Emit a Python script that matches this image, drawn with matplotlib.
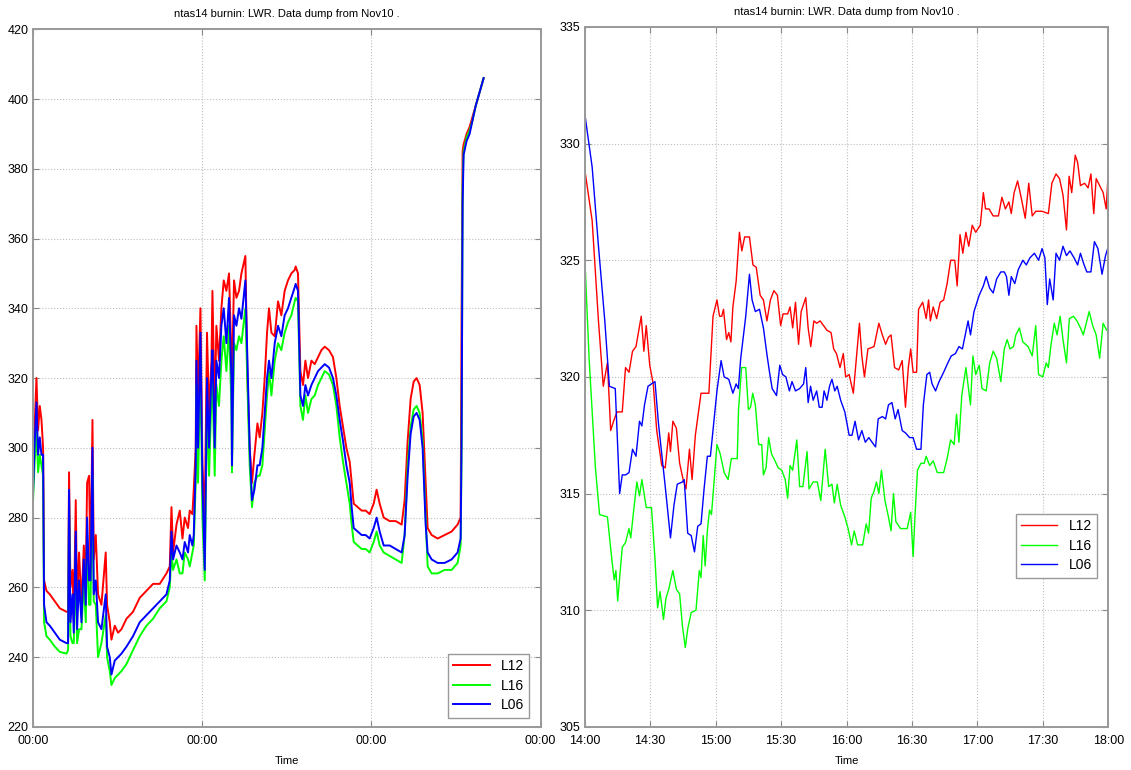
import numpy as np
import matplotlib
matplotlib.use('Agg')
import matplotlib.pyplot as plt
import matplotlib.dates as mdates
from datetime import datetime, timedelta

plt.rcParams['font.family'] = ['Liberation Sans', 'DejaVu Sans']

title = 'ntas14 burnin: LWR. Data dump from Nov10 .'
labels = ['L12', 'L16', 'L06']
colors = ['#ff0000', '#00ff00', '#0000ff']

# ---- left panel: ~2.7 days of data, hours from start
left_hours = [0.0, 0.24, 0.52, 0.75, 0.99, 1.23, 1.46, 1.60, 1.94, 2.41, 3.12, 3.83, 4.78, 5.00,
              5.14, 5.34, 5.63, 5.81, 6.09, 6.28, 6.56, 6.90, 7.23, 7.51, 7.70, 7.98, 8.18, 8.46,
              8.64, 8.93, 9.25, 9.73, 10.34, 10.53, 10.91, 11.15, 11.62, 12.09, 12.57, 13.28, 14.21,
              15.16, 16.11, 17.05, 18.0, 18.95, 19.42, 19.66, 19.89, 20.37, 20.84, 21.22, 21.54,
              22.01, 22.25, 22.63, 22.82, 23.10, 23.20, 23.43, 23.77, 24.05, 24.38, 24.70, 24.99,
              25.33, 25.47, 25.79, 26.03, 26.40, 26.74, 27.07, 27.45, 27.82, 28.16, 28.24, 28.53,
              28.87, 29.24, 29.58, 30.14, 30.43, 30.75, 31.08, 31.42, 31.85, 32.17, 32.55, 32.88,
              33.21, 33.49, 33.83, 34.30, 34.77, 35.24, 35.71, 36.18, 36.66, 37.13, 37.27, 37.60,
              37.94, 38.31, 38.65, 39.02, 39.50, 39.97, 40.44, 40.92, 41.39, 42.0, 42.56, 43.04,
              43.51, 43.98, 44.46, 44.93, 45.21, 45.50, 46.06, 46.63, 47.20, 47.76, 48.33, 48.75,
              49.18, 49.75, 50.60, 51.45, 52.30, 52.72, 53.15, 53.57, 54.0, 54.42, 54.85, 55.27,
              55.70, 55.98, 56.55, 57.40, 58.39, 59.38, 60.23, 60.66, 60.80, 60.94, 61.08, 61.51,
              61.93, 62.36, 62.79, 63.21, 63.64, 63.92]
left_l12 = [290, 305, 320, 305, 312, 308, 300, 262, 259, 258, 256, 254, 253, 253,
            293, 260, 265, 250, 285, 255, 270, 255, 272, 262, 290, 292, 265, 308,
            268, 275, 258, 255, 270, 255, 250, 245, 249, 247, 248, 251, 253,
            257, 259, 261, 261, 264, 266, 283, 270, 278, 282, 274, 280,
            277, 282, 281, 288, 300, 335, 315, 340, 295, 280, 333, 310,
            325, 345, 310, 335, 325, 340, 348, 345, 350, 325, 320, 348,
            343, 345, 350, 355, 320, 300, 290, 298, 307, 303, 310, 320,
            333, 340, 333, 332, 342, 338, 345, 348, 350, 351, 352, 350,
            322, 318, 325, 320, 325, 324, 326, 328, 329, 328, 326, 320,
            312, 306, 300, 296, 290, 284, 283, 282, 282, 281, 284, 288,
            284, 280, 279, 279, 278, 285, 302, 314, 319, 320, 318, 310,
            290, 277, 275, 274, 275, 276, 278, 280, 340, 385, 387, 390,
            392, 395, 398, 401, 404, 406]
left_l16 = [283, 295, 305, 293, 298, 295, 292, 250, 246, 245, 243, 241.5, 241, 242,
            285, 246, 244, 244, 268, 244, 248, 248, 262, 250, 275, 255, 255, 292,
            256, 255, 240, 244, 252, 240, 236, 232, 234, 235, 236, 238, 242,
            246, 249, 251, 254, 256, 260, 270, 265, 268, 264, 264, 270,
            268, 266, 270, 272, 290, 318, 290, 325, 280, 262, 312, 292,
            315, 320, 292, 318, 312, 325, 332, 322, 335, 312, 293, 330,
            328, 332, 330, 340, 318, 295, 283, 290, 292, 292, 295, 305,
            315, 322, 315, 325, 330, 328, 333, 336, 338, 342, 343, 342,
            312, 308, 315, 310, 314, 315, 318, 320, 322, 321, 318, 312,
            303, 296, 290, 284, 278, 273, 272, 271, 271, 270, 273, 276,
            272, 270, 269, 268, 267, 275, 295, 306, 311, 312, 310, 302,
            280, 266, 264, 264, 265, 265, 267, 272, 300, 375, 385, 389,
            391, 394, 398, 401, 404, 406]
left_l06 = [285, 300, 313, 298, 303, 298, 298, 255, 250, 249, 247, 245, 244, 244,
            288, 250, 258, 247, 276, 248, 262, 250, 268, 255, 280, 262, 262, 300,
            258, 262, 250, 248, 258, 243, 240, 235, 239, 240, 241, 243, 246,
            250, 252, 254, 256, 258, 262, 276, 268, 272, 270, 268, 273,
            270, 275, 272, 275, 295, 325, 300, 333, 290, 265, 320, 300,
            322, 328, 300, 325, 320, 335, 340, 330, 343, 320, 295, 338,
            335, 340, 337, 348, 325, 300, 285, 288, 295, 295, 300, 310,
            320, 325, 320, 330, 335, 332, 338, 340, 343, 346, 347, 345,
            315, 312, 318, 315, 318, 320, 322, 323, 324, 323, 320, 315,
            308, 302, 295, 290, 283, 277, 276, 275, 275, 274, 277, 280,
            276, 272, 272, 271, 270, 275, 292, 304, 309, 310, 308, 300,
            278, 270, 268, 267, 267, 268, 270, 274, 303, 370, 384, 388,
            390, 394, 398, 401, 404, 406]

# ---- right panel: 14:00-18:00, minutes after 14:00
right_t_l12 = [0, 3.4, 6.3, 8.5, 10.4, 11.9, 13.2, 14.8, 17.2, 18.7, 20.3, 21.9, 23.5, 25.9, 27.1,
               28.2, 29.8, 31.4, 33, 35.3, 36.9, 38.5, 39.3, 40.4, 42, 43.5, 45.1, 46.4, 48, 49.2,
               50.7, 53.3, 56.9, 58.8, 60.6, 61.8, 62.8, 63.6, 65.0, 66.0, 67.0, 67.9, 69.4, 70.9,
               72.0, 73.3, 75.5, 77.1, 78.6, 80.4, 81.9, 83.5, 85.1, 86.7, 88.3, 89.8, 90.9, 93,
               94.1, 95.3, 96.6, 98, 99.2, 101.3, 102.4, 103.6, 105, 106.3, 107.9, 111, 112.9,
               114.1, 115.4, 117, 118.5, 119.6, 121.2, 123.1, 124.6, 125.9, 127, 128.2, 129.8,
               132.6, 134.8, 136.4, 137.9, 139.2, 140.4, 142, 143.9, 145.5, 147, 148.3, 149.4,
               150.5, 152.1, 153, 154.9, 156.5, 157.6, 158.4, 159.7, 161.3, 162.9, 164.5,
               166.1, 167.7, 169.6, 170.7, 172, 173.3, 174.7, 176, 177.6, 179.2, 181.3, 182.7,
               183.7, 185.3, 187.2, 189.6, 191.2, 192.8, 194.4, 195.5, 196.8, 198.4, 200, 201.9,
               203.5, 205.1, 206.7, 209.6, 212.5, 214.1, 216, 217.6, 219.2, 220.8, 222, 223.2,
               224.8, 225.9, 227.2, 229.1, 230.7, 232, 233.3, 234.4, 236, 237.6, 239, 240]
right_l12 = [328.9, 326.7, 322.4, 319.6, 320.6, 317.7, 318.1, 318.5, 318.5, 320.4, 320.2, 321.1,
             321.3, 322.6, 321.1, 322.2, 320.5, 319.7, 317.7, 316.2, 316.1, 317.6, 316.8, 318.1,
             317.8, 316.3, 315.6, 315.2, 316.9, 315.6, 317.5, 319.3, 319.3, 322.6, 323.3, 322.6,
             322.6, 322.9, 321.6, 321.9, 321.5, 323.0, 324.1, 326.2, 325.4, 326.0, 326.0, 324.8,
             324.7, 323.5, 323.3, 322.4, 323.3, 323.7, 323.5, 322.2, 322.7, 322.7, 323.0, 322.1,
             323.2, 321.4, 322.8, 323.4, 322.1, 321.3, 322.4, 322.3, 322.4, 322.0, 321.9, 321.2,
             321.0, 320.4, 321.0, 320.0, 320.1, 319.3, 320.9, 322.3, 320.9, 320.0, 321.2, 321.3,
             322.3, 321.8, 321.4, 321.7, 321.8, 320.4, 320.3, 320.7, 318.7, 320.4, 321.2, 320.2,
             320.2, 322.9, 323.2, 322.5, 323.3, 322.4, 323.0, 322.5, 323.2, 323.3,
             324.0, 325.0, 325.0, 323.9, 326.1, 325.3, 326.2, 325.6, 326.5, 326.2, 326.5, 327.9,
             327.2, 327.2, 326.9, 326.9, 327.7, 327.2, 327.5, 327.0, 327.9, 328.4, 327.7, 326.8,
             328.3, 326.9, 327.1, 327.1, 327.0, 328.3, 328.7, 328.5, 327.8, 326.3, 328.6, 327.9,
             329.5, 329.2, 328.2, 328.3, 328.1, 328.7, 327.0, 328.5, 328.2, 327.9, 327.2, 328.9]

right_t_l16 = [0, 2, 4.9, 6.8, 10.4, 12.4, 13.5, 14.3, 15.1, 17.2, 18.7, 20.3, 21.1, 22.7, 23.9,
               25.1, 26.2, 28.2, 30.6, 32.2, 33.4, 34.5, 36.1, 37.2, 38.5, 40.4, 42, 43.5, 44.8,
               46.1, 47.2, 48.8, 51.0, 52.5, 53.3, 54.3, 55.2, 56.2, 57.2, 58.1, 59.1, 60.6, 62.1,
               63.9, 65.7, 67.2, 69.9, 70.5, 71.9, 73.8, 75.0, 76.0, 77.0, 78.2, 79.7, 81.1, 81.9,
               83.1, 84.3, 85.6, 87.2, 88.7, 90.3, 91.9, 93, 94.1, 95.3, 97.2, 98.5, 100, 101.9,
               102.8, 104.7, 106.6, 108.2, 110.2, 111.8, 113.3, 114.4, 115.7, 117.3, 119.2, 120.7,
               122.3, 123.5, 125.1, 127.4, 129, 130.1, 131.3, 132.6, 133.7, 134.8, 136, 137.6,
               139.2, 140.4, 141.5, 142.6, 144.7, 147.8, 149.4, 150.5, 151.4, 152.5, 154.1, 155.6,
               156.5, 158.1, 159.7, 161.6, 164.5, 166.1, 167.7, 169.3, 170.4, 171.5, 172.8,
               174.7, 176.8, 177.9, 179.2, 180.8, 182.1, 184, 185.6, 187.2, 188.8, 190.7, 192.3,
               193.6, 194.9, 196.5, 197.6, 199.2, 200.8, 203.2, 205.1, 206.7, 208, 209.9, 211.5,
               212.5, 213.6, 215.2, 216.5, 217.9, 219.2, 220.8, 222.1, 224, 225.6, 227.2, 228.5,
               229.6, 231.2, 232.8, 234.4, 236, 237.6, 239.2, 240]
right_l16 = [325.2, 320.8, 316.1, 314.1, 314.0, 312.2, 311.3, 311.7, 310.4, 312.7, 312.9, 313.5,
             313.1, 314.5, 315.5, 314.9, 315.6, 314.4, 314.4, 312.2, 310.1, 310.8, 309.6, 310.5,
             310.9, 311.7, 310.9, 310.7, 309.3, 308.4, 309.2, 309.9, 310.0, 311.7, 311.4, 313.2,
             311.9, 313.4, 314.3, 314.1, 315.3, 317.1, 316.7, 315.9, 315.6, 316.5, 316.5, 318.6,
             320.4, 320.4, 318.6, 318.7, 319.3, 318.8, 317.1, 317.1, 315.8, 316.1, 317.4, 316.7,
             316.4, 316.1, 316.0, 315.6, 314.8, 316.2, 316.0, 317.3, 315.3, 315.3, 316.8, 315.2,
             315.5, 315.5, 314.7, 316.9, 315.3, 315.4, 314.6, 315.4, 314.5, 314.0, 313.5, 312.8,
             313.4, 312.8, 312.8, 313.7, 313.3, 314.8, 315.1, 315.5, 315.0, 316.0, 314.7, 314.0,
             313.4, 315.0, 313.8, 313.5, 313.5, 314.2, 312.3, 314.1, 316.0, 316.3, 316.3,
             316.6, 316.2, 316.4, 315.9, 315.9, 316.5, 317.3, 317.1, 318.4, 317.2,
             319.2, 320.4, 318.8, 320.9, 320.1, 320.5, 319.5, 319.4, 320.6, 321.1, 320.8, 319.8,
             321.2, 321.6, 321.2, 321.3, 321.8, 322.1, 321.5, 321.3, 320.9, 322.2, 320.1, 320.0,
             320.6, 320.4, 321.3, 322.3, 321.8, 322.6, 321.6, 320.6, 322.5, 322.6, 322.4, 322.1,
             321.8, 322.2, 322.8, 322.2, 321.8, 320.8, 322.3, 322.0, 322.1]

right_t_l06 = [0, 3.4, 6.3, 9.2, 11.3, 14, 14.8, 16, 17.2, 18.7, 20.3, 21.9, 23.5, 25.1, 26.2, 27.4,
               29, 32.2, 33.8, 35.3, 36.9, 39.3, 40.9, 42.4, 44.8, 45.6, 47.2, 48.8, 50.3, 51.8,
               53.3, 54.7, 56.2, 57.6, 59.1, 60.6, 62.5, 63.9, 66.0, 67.9, 69.4, 70.4, 71.5, 73.8,
               75.5, 76.7, 78.2, 80.1, 81.9, 83.6, 84.7, 85.9, 87.9, 89.4, 90.7, 92.2, 93.8, 95,
               96.6, 98.5, 100.3, 101.3, 102.4, 103.5, 104.7, 106.3, 107.5, 108.8, 109.7, 111,
               112.2, 113.3, 114.6, 115.7, 117.3, 119.2, 121.2, 122.5, 123.9, 125.5, 127, 128.6,
               130.2, 131.7, 133.3, 134.5, 136.4, 137.9, 139.2, 140.8, 142.3, 143.6, 145.5, 147,
               148.9, 150.5, 152.1, 154.1, 155.2, 156.8, 158.1, 159.2, 160.8, 162.4, 164.5, 166.4,
               168, 169.9, 171.5, 173.1, 174.4, 175.7, 176.8, 178.4, 180.8, 182.7, 184, 185.6,
               187.2, 188.8, 190.7, 192.3, 193.3, 194.4, 195.5, 197.1, 198.7, 200.8, 202.4, 204,
               206.1, 208, 209.6, 210.9, 212, 213.1, 214.7, 216, 217.6, 219.2, 220.8, 222.4,
               224.3, 225.9, 227.2, 228.5, 230.1, 232, 233.6, 235.2, 237.1, 238.7, 240]
right_l06 = [331.3, 329.0, 325.6, 322.4, 319.6, 319.5, 317.7, 315.0, 315.8, 315.8, 315.9, 316.9,
             316.6, 318.1, 317.9, 318.8, 319.6, 319.8, 318.0, 316.7, 315.3, 313.1, 314.5, 315.4,
             315.5, 315.6, 313.3, 313.2, 312.5, 313.6, 313.7, 315.2, 316.6, 316.6, 318.0, 319.4,
             320.7, 320.0, 319.9, 319.3, 319.7, 319.5, 320.8, 322.6, 324.4, 323.3, 322.8, 322.9,
             322.1, 320.9, 320.2, 319.5, 319.2, 320.5, 320.1, 320.0, 319.4, 319.8, 319.4, 319.5,
             319.7, 320.4, 318.9, 319.6, 319.0, 319.4, 318.7, 318.7, 319.4, 319.0, 319.6, 319.9,
             319.4, 319.6, 319.0, 318.5, 317.5, 317.5, 318.1, 317.3, 317.7, 317.2, 317.4, 317.2,
             317.0, 318.2, 318.3, 318.2, 318.8, 318.9, 318.2, 318.6, 317.7, 317.6, 317.4, 317.4,
             316.9, 316.9, 318.8, 320.1, 320.2, 319.7, 319.4, 319.8, 320.2, 320.6,
             320.9, 321.0, 321.3, 321.2, 321.8, 322.4, 321.8, 322.8, 323.5, 323.9, 324.3, 323.8,
             323.6, 324.2, 324.5, 324.5, 324.3, 323.5, 324.3, 324.0, 324.6, 325.0, 324.8, 325.1,
             325.3, 325.0, 325.5, 325.1, 323.1, 324.2, 323.3, 325.3, 325.0, 325.6, 325.2, 325.4,
             325.1, 324.8, 325.3, 324.9, 324.5, 324.5, 325.8, 325.5, 324.4, 325.2, 325.6]

base = datetime(2010, 11, 7)

fig = plt.figure(figsize=(11.31, 7.7), dpi=100)
ax1 = fig.add_axes([0.029, 0.056, 0.449, 0.906])
ax2 = fig.add_axes([0.517, 0.056, 0.463, 0.909])

lt = [base + timedelta(hours=h) for h in left_hours]
for vals, lab, c in zip([left_l12, left_l16, left_l06], labels, colors):
    ax1.plot(lt, vals, color=c, lw=1.4, label=lab)

t0 = base + timedelta(hours=14)
rt = [right_t_l12, right_t_l16, right_t_l06]
for tt, vals, lab, c in zip(rt, [right_l12, right_l16, right_l06], labels, colors):
    ax2.plot([t0 + timedelta(minutes=m) for m in tt], vals, color=c, lw=1.0, label=lab)

ax1.set_xlim(base, base + timedelta(days=3))
ax1.set_ylim(220, 420)
ax1.set_yticks(np.arange(220, 421, 20))
ax1.xaxis.set_major_locator(mdates.DayLocator())
ax1.xaxis.set_major_formatter(mdates.DateFormatter('%H:%M'))

ax2.set_xlim(t0, t0 + timedelta(hours=4))
ax2.set_ylim(305, 335)
ax2.set_yticks(np.arange(305, 336, 5))
ax2.xaxis.set_major_locator(mdates.MinuteLocator(byminute=[0, 30]))
ax2.xaxis.set_major_formatter(mdates.DateFormatter('%H:%M'))

for ax in (ax1, ax2):
    ax.set_title(title, fontsize=8, pad=8.5)
    ax.set_xlabel('Time', fontsize=8, labelpad=6)
    ax.grid(True, linestyle=':', color='#bdbdbd', lw=0.8)
    ax.tick_params(direction='in', top=True, right=True, length=4, width=0.8,
                   color='#888888', labelsize=9)
    ax.tick_params(axis='x', pad=6)
    ax.tick_params(axis='y', pad=3)
    for s in ax.spines.values():
        s.set_color('#999999')
        s.set_linewidth(1.4)

leg1 = ax1.legend(loc='lower right', bbox_to_anchor=(0.978, 0.013), fontsize=10,
                  fancybox=False, framealpha=1, edgecolor='#999999', handlelength=2.6,
                  borderaxespad=0, labelspacing=0.4)
leg2 = ax2.legend(loc='lower right', bbox_to_anchor=(0.979, 0.213), fontsize=10,
                  fancybox=False, framealpha=1, edgecolor='#999999', handlelength=2.6,
                  borderaxespad=0, labelspacing=0.4)

fig.savefig('out.png', dpi=100)
